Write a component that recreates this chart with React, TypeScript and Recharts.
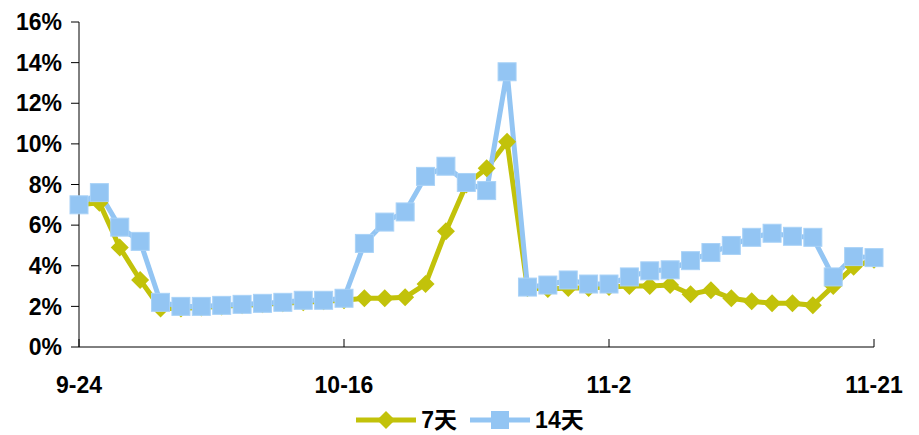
import React from 'react';
import { LineChart, Line, XAxis, YAxis, Legend } from 'recharts';

const OLIVE = '#C2C20A';
const SKY = '#93C5F3';
const FONT = '"Liberation Sans", Arial, "Noto Sans CJK SC", sans-serif';

const dates = [
  '9-24', '9-26', '9-27', '9-29', '10-1', '10-3', '10-4', '10-6', '10-8', '10-9',
  '10-11', '10-13', '10-14', '10-16', '10-17', '10-19', '10-20', '10-22', '10-23', '10-24',
  '10-26', '10-27', '10-28', '10-30', '10-31', '11-1', '11-2', '11-4', '11-5', '11-7',
  '11-8', '11-10', '11-11', '11-13', '11-14', '11-16', '11-17', '11-18', '11-20', '11-21',
];

// 7-day rate, %
const rate7 = [
  7.0, 7.1, 4.9, 3.3, 1.9, 1.9, 1.95, 2.0, 2.05, 2.1,
  2.15, 2.2, 2.25, 2.3, 2.4, 2.4, 2.45, 3.1, 5.7, 8.0,
  8.8, 10.1, 2.9, 2.85, 2.9, 2.9, 2.95, 3.0, 3.0, 3.05,
  2.6, 2.8, 2.4, 2.25, 2.15, 2.15, 2.05, 3.0, 3.95, 4.3,
];

// 14-day rate, %
const rate14 = [
  7.0, 7.6, 5.9, 5.2, 2.2, 2.0, 2.0, 2.05, 2.1, 2.15,
  2.2, 2.3, 2.3, 2.4, 5.1, 6.15, 6.65, 8.4, 8.9, 8.1,
  7.7, 13.55, 2.95, 3.05, 3.3, 3.1, 3.1, 3.45, 3.75, 3.8,
  4.25, 4.65, 5.0, 5.4, 5.6, 5.45, 5.4, 3.45, 4.45, 4.4,
];

const yTicks = [0, 2, 4, 6, 8, 10, 12, 14, 16];

const series = [
  { key: 'r7', name: '7天', color: OLIVE, shape: 'diamond' },
  { key: 'r14', name: '14天', color: SKY, shape: 'square' },
];

const data = dates.map((d, i) => ({ date: d, r7: rate7[i], r14: rate14[i] }));

const DiamondDot = (props: any) => {
  const { cx, cy, index } = props;
  if (cx == null || cy == null) return null;
  const r = 9;
  return (
    <polygon
      key={`d-${index}`}
      points={`${cx},${cy - r} ${cx + r},${cy} ${cx},${cy + r} ${cx - r},${cy}`}
      fill={OLIVE}
    />
  );
};

const SquareDot = (props: any) => {
  const { cx, cy, index } = props;
  if (cx == null || cy == null) return null;
  const s = 18;
  return (
    <rect
      key={`s-${index}`}
      x={cx - s / 2}
      y={cy - s / 2}
      width={s}
      height={s}
      fill={SKY}
      stroke="#A9D2F7"
      strokeWidth={1}
    />
  );
};

// bottom ticks point up into the plot, labels sit well below the axis
const DateTick = (props: any) => {
  const { x, y, payload } = props;
  const axisY = y - 10;
  return (
    <g>
      <line x1={x} x2={x} y1={axisY} y2={axisY - 8} stroke="#000" strokeWidth={1} />
      <text
        x={x}
        y={axisY + 46}
        textAnchor="middle"
        fill="#000"
        style={{ fontFamily: FONT, fontSize: 23, fontWeight: 700 }}
      >
        {payload.value}
      </text>
    </g>
  );
};

const LegendIcon = ({ color, shape }: { color: string; shape: string }) => (
  <svg width={60} height={20} style={{ display: 'block' }}>
    <line x1={0} x2={60} y1={10} y2={10} stroke={color} strokeWidth={5} />
    {shape === 'diamond' ? (
      <polygon points="30,1 39,10 30,19 21,10" fill={color} />
    ) : (
      <rect x={21} y={1} width={18} height={18} fill={color} />
    )}
  </svg>
);

const renderLegend = () => (
  <div
    style={{
      display: 'flex',
      justifyContent: 'center',
      alignItems: 'center',
      gap: 13,
      paddingLeft: 66,
      height: 30,
      lineHeight: '24px',
      fontFamily: FONT,
      fontSize: 23,
      fontWeight: 700,
      color: '#000',
    }}
  >
    {series.map(s => (
      <div key={s.key} style={{ display: 'flex', alignItems: 'center', gap: 5 }}>
        <LegendIcon color={s.color} shape={s.shape} />
        <span>{s.name}</span>
      </div>
    ))}
  </div>
);

export default function App() {
  return (
    <div style={{ position: 'absolute', left: 0, top: 0, width: 919, height: 435, background: '#fff' }}>
      <LineChart width={919} height={435} data={data} margin={{ top: 22, right: 45, left: 0, bottom: 0 }}>
        <XAxis
          dataKey="date"
          interval={12}
          tickSize={8}
          tickMargin={2}
          tickLine={false}
          tick={<DateTick />}
          height={58}
          stroke="#000"
        />
        <YAxis
          domain={[0, 16]}
          ticks={yTicks}
          tickFormatter={(v: number) => `${v}%`}
          width={79}
          tickSize={8}
          tickMargin={9}
          stroke="#000"
          tick={{ fill: '#000', fontSize: 23, fontWeight: 700, fontFamily: FONT }}
        />
        <Legend verticalAlign="bottom" height={30} content={renderLegend} />
        <Line
          dataKey="r7"
          name="7天"
          stroke={OLIVE}
          strokeWidth={5}
          dot={DiamondDot}
          activeDot={false}
          isAnimationActive={false}
        />
        <Line
          dataKey="r14"
          name="14天"
          stroke={SKY}
          strokeWidth={5}
          dot={SquareDot}
          activeDot={false}
          isAnimationActive={false}
        />
      </LineChart>
    </div>
  );
}
